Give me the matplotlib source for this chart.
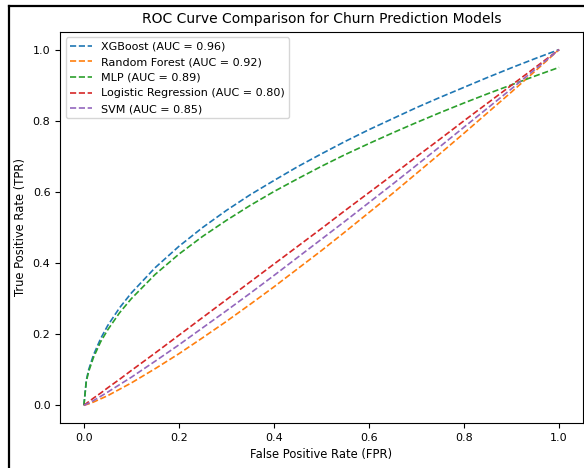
import matplotlib
matplotlib.use("Agg")
import matplotlib.pyplot as plt
from matplotlib.lines import Line2D

# valores
fpr = [0.0, 0.005, 0.01, 0.02, 0.035, 0.05, 0.075, 0.1, 0.15, 0.2, 0.25,
       0.3, 0.35, 0.4, 0.45, 0.5, 0.55, 0.6, 0.65, 0.7, 0.75, 0.8, 0.85, 0.9, 0.95, 1.0]
tpr_xgb = [0.0, 0.07, 0.10, 0.141, 0.187, 0.224, 0.274, 0.316, 0.387, 0.447, 0.50,
           0.548, 0.592, 0.632, 0.671, 0.707, 0.742, 0.775, 0.806, 0.837, 0.866,
           0.894, 0.922, 0.949, 0.975, 1.0]
tpr_rf = [0.0, 0.002, 0.004, 0.009, 0.018, 0.027, 0.045, 0.063, 0.103, 0.145, 0.19,
          0.236, 0.284, 0.333, 0.384, 0.435, 0.488, 0.542, 0.596, 0.652, 0.708,
          0.765, 0.823, 0.881, 0.94, 1.0]
tpr_mlp = [0.0, 0.067, 0.095, 0.134, 0.178, 0.212, 0.26, 0.30, 0.368, 0.425, 0.475,
           0.52, 0.562, 0.601, 0.637, 0.672, 0.705, 0.736, 0.766, 0.795, 0.823,
           0.85, 0.876, 0.901, 0.926, 0.95]
tpr_lr = [0.0, 0.005, 0.01, 0.02, 0.034, 0.049, 0.073, 0.098, 0.147, 0.197, 0.247,
          0.297, 0.347, 0.397, 0.447, 0.497, 0.548, 0.598, 0.648, 0.699, 0.749,
          0.80, 0.85, 0.90, 0.95, 1.0]
tpr_svm = [0.0, 0.003, 0.006, 0.013, 0.025, 0.037, 0.058, 0.079, 0.124, 0.17, 0.218,
           0.266, 0.315, 0.365, 0.416, 0.467, 0.518, 0.57, 0.622, 0.675, 0.728,
           0.782, 0.836, 0.89, 0.945, 1.0]

models = ['XGBoost', 'Random Forest', 'MLP', 'Logistic Regression', 'SVM']
aucs = [0.96, 0.92, 0.89, 0.80, 0.85]
curves = [tpr_xgb, tpr_rf, tpr_mlp, tpr_lr, tpr_svm]
colors = ['tab:blue', 'tab:orange', 'tab:green', 'tab:red', 'tab:purple']

fig, ax = plt.subplots(figsize=(5.84, 4.68), dpi=100)
fig.subplots_adjust(left=0.103, right=0.998, bottom=0.096, top=0.932)

for name, auc, tpr, c in zip(models, aucs, curves, colors):
    ax.plot(fpr, tpr, linestyle='--', color=c, linewidth=1.2,
            label=f'{name} (AUC = {auc:.2f})')

ax.set_title('ROC Curve Comparison for Churn Prediction Models', fontsize=10)
ax.set_xlabel('False Positive Rate (FPR)', fontsize=8.3)
ax.set_ylabel('True Positive Rate (TPR)', fontsize=8.3)
ax.tick_params(labelsize=8)
ax.legend(loc='upper left', fontsize=8)

# moldura preta (esquerda e topo)
fig.add_artist(Line2D([9 / 584, 9 / 584], [0, 1 - 6 / 468], transform=fig.transFigure,
                      color='black', linewidth=1.6))
fig.add_artist(Line2D([9 / 584, 1], [1 - 6 / 468, 1 - 6 / 468], transform=fig.transFigure,
                      color='black', linewidth=1.6))

fig.savefig('out.png', dpi=100)
